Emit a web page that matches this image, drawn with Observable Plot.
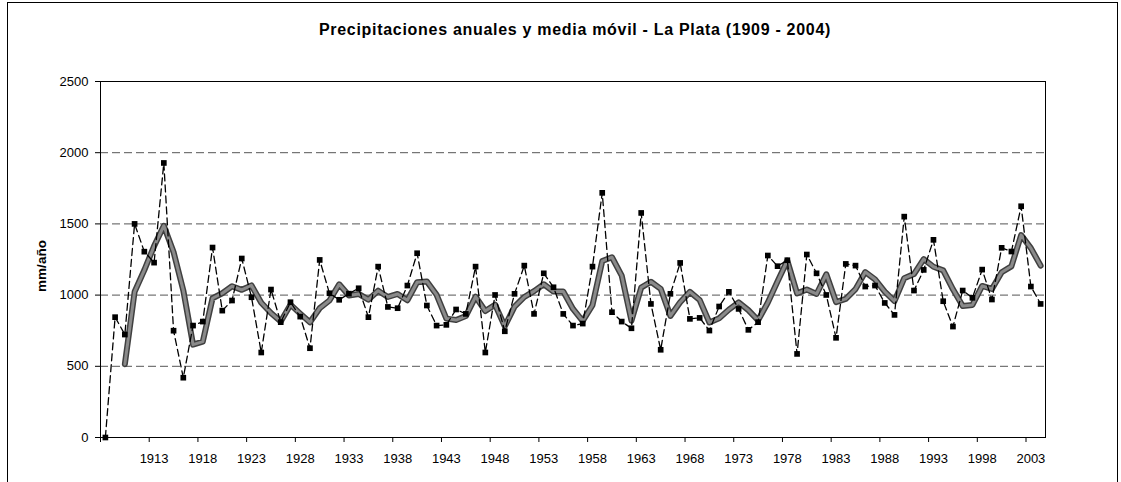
<!DOCTYPE html>
<html><head><meta charset="utf-8">
<script src="https://cdn.jsdelivr.net/npm/d3@7"></script>
<script src="https://cdn.jsdelivr.net/npm/@observablehq/plot@0.6"></script>
<style>
body{margin:0;background:#fff;}
#wrap{position:relative;width:1121px;height:482px;overflow:hidden;font-family:"Liberation Sans",Arial,sans-serif;}
#frame{position:absolute;left:7px;top:2px;width:1111px;height:520px;border:1px solid #000;box-sizing:border-box;}
#title{position:absolute;left:0;width:1150px;top:21px;text-align:center;font-weight:bold;font-size:16px;letter-spacing:0.7px;color:#000;}
#ylab{position:absolute;left:41px;top:266px;transform:translate(-50%,-50%) rotate(-90deg);font-weight:bold;font-size:13.5px;white-space:nowrap;}
#chart{position:absolute;left:0;top:0;}
</style></head><body>
<div id="wrap"><div id="frame"></div><div id="title">Precipitaciones anuales y media móvil - La Plata (1909 - 2004)</div><div id="ylab">mm/año</div><div id="chart"></div></div>
<script>
const years = [1908,1909,1910,1911,1912,1913,1914,1915,1916,1917,1918,1919,1920,1921,1922,1923,1924,1925,1926,1927,1928,1929,1930,1931,1932,1933,1934,1935,1936,1937,1938,1939,1940,1941,1942,1943,1944,1945,1946,1947,1948,1949,1950,1951,1952,1953,1954,1955,1956,1957,1958,1959,1960,1961,1962,1963,1964,1965,1966,1967,1968,1969,1970,1971,1972,1973,1974,1975,1976,1977,1978,1979,1980,1981,1982,1983,1984,1985,1986,1987,1988,1989,1990,1991,1992,1993,1994,1995,1996,1997,1998,1999,2000,2001,2002,2003,2004];
const rainfall = [0,845,723,1500,1305,1228,1928,750,420,786,814,1334,891,962,1257,985,597,1039,810,950,849,627,1247,1013,967,1010,1048,845,1200,917,908,1067,1294,927,786,791,899,868,1200,597,1001,746,1009,1207,868,1153,1055,868,786,800,1200,1718,880,814,767,1577,938,616,1009,1226,833,840,751,920,1023,903,756,810,1278,1203,1245,587,1285,1153,1001,700,1219,1207,1060,1067,945,861,1551,1032,1177,1388,957,779,1032,981,1179,969,1332,1306,1624,1060,938];
const movingAvgYears = [1910,1911,1912,1913,1914,1915,1916,1917,1918,1919,1920,1921,1922,1923,1924,1925,1926,1927,1928,1929,1930,1931,1932,1933,1934,1935,1936,1937,1938,1939,1940,1941,1942,1943,1944,1945,1946,1947,1948,1949,1950,1951,1952,1953,1954,1955,1956,1957,1958,1959,1960,1961,1962,1963,1964,1965,1966,1967,1968,1969,1970,1971,1972,1973,1974,1975,1976,1977,1978,1979,1980,1981,1982,1983,1984,1985,1986,1987,1988,1989,1990,1991,1992,1993,1994,1995,1996,1997,1998,1999,2000,2001,2002,2003,2004];
const movingAvg = [515,1023,1176,1344,1487,1302,1033,652,673,978,1013,1062,1037,1068,946,874,815,933,870,809,908,962,1076,997,1008,968,1031,987,1008,964,1090,1096,1002,835,825,853,989,888,933,781,919,987,1028,1076,1025,1025,903,818,929,1239,1266,1137,820,1053,1094,1044,854,950,1023,966,808,837,898,949,894,823,948,1097,1242,1012,1039,1008,1146,951,973,1042,1162,1111,1024,958,1119,1148,1253,1199,1174,1041,923,931,1064,1043,1160,1202,1421,1330,1207];
const yTicks = [0,500,1000,1500,2000,2500];
const gridValues = [500,1000,1500,2000];
const xTickBoundaries = [1907.5,1912.5,1917.5,1922.5,1927.5,1932.5,1937.5,1942.5,1947.5,1952.5,1957.5,1962.5,1967.5,1972.5,1977.5,1982.5,1987.5,1992.5,1997.5,2002.5];
const xLabelYears = [1913,1918,1923,1928,1933,1938,1943,1948,1953,1958,1963,1968,1973,1978,1983,1988,1993,1998,2003];
const xLabels = ["1913","1918","1923","1928","1933","1938","1943","1948","1953","1958","1963","1968","1973","1978","1983","1988","1993","1998","2003"];

const rainData = years.map((y,i)=>({year:y, value:rainfall[i]}));
const maData = movingAvgYears.map((y,i)=>({year:y, value:movingAvg[i]}));

const chart = Plot.plot({
  width:1121, height:482,
  marginLeft:100, marginRight:76, marginTop:81, marginBottom:45,
  style:{fontFamily:'"Liberation Sans", Arial, sans-serif', fontSize:"13px", color:"#000", background:"transparent", overflow:"visible"},
  x:{type:"linear", domain:[1907.5, 2004.5]},
  y:{domain:[0,2500]},
  marks:[
    Plot.ruleY(gridValues, {stroke:"#555", strokeWidth:1, strokeDasharray:"8,4"}),
    Plot.frame({stroke:"#000", strokeWidth:1}),
    Plot.line(maData, {x:"year", y:"value", stroke:"#404040", strokeWidth:6, strokeLinejoin:"round"}),
    Plot.line(maData, {x:"year", y:"value", stroke:"#8a8a8a", strokeWidth:3, strokeLinejoin:"round"}),
    Plot.line(rainData, {x:"year", y:"value", stroke:"#000", strokeWidth:1.3, strokeDasharray:"7,4"}),
    Plot.dot(rainData, {x:"year", y:"value", symbol:"square", r:3.2, fill:"#000", stroke:"none"}),
    Plot.axisY(yTicks, {tickSize:5, tickPadding:7, tickFormat:d=>String(d), label:null, fontSize:13}),
    Plot.axisX(xTickBoundaries, {tickSize:5, tickFormat:()=>"", label:null}),
    Plot.axisX(xLabelYears, {tickSize:0, tickPadding:16, tickFormat:(d)=>xLabels[xLabelYears.indexOf(d)], label:null, fontSize:13})
  ]
});
document.getElementById("chart").appendChild(chart);
</script>
</body></html>
